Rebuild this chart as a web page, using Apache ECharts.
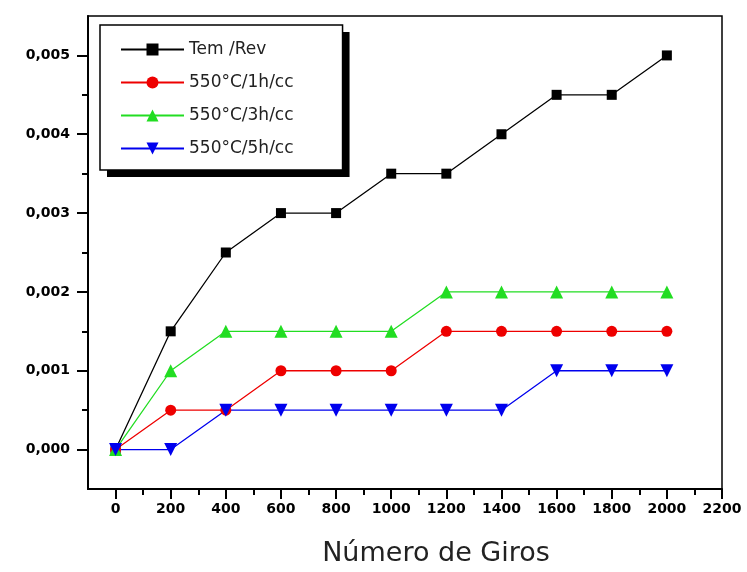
<!DOCTYPE html>
<html><head><meta charset="utf-8">
<script src="https://cdn.jsdelivr.net/npm/echarts@6/dist/echarts.min.js"></script>
<style>html,body{margin:0;padding:0;background:#fff}#c{width:747px;height:572px}</style>
</head><body><div id="c"></div>
<script>
const giros = [0, 200, 400, 600, 800, 1000, 1200, 1400, 1600, 1800, 2000];
const temRev = [0, 0.0015, 0.0025, 0.003, 0.003, 0.0035, 0.0035, 0.004, 0.0045, 0.0045, 0.005];
const c550_1h = [0, 0.0005, 0.0005, 0.001, 0.001, 0.001, 0.0015, 0.0015, 0.0015, 0.0015, 0.0015];
const c550_3h = [0, 0.001, 0.0015, 0.0015, 0.0015, 0.0015, 0.002, 0.002, 0.002, 0.002, 0.002];
const c550_5h = [0, 0, 0.0005, 0.0005, 0.0005, 0.0005, 0.0005, 0.0005, 0.001, 0.001, 0.001];
const seriesNames = ['Tem /Rev', '550°C/1h/cc', '550°C/3h/cc', '550°C/5h/cc'];
const xMajor = [0, 200, 400, 600, 800, 1000, 1200, 1400, 1600, 1800, 2000, 2200];
const xMinor = [100, 300, 500, 700, 900, 1100, 1300, 1500, 1700, 1900, 2100];
const yMajor = [0, 0.001, 0.002, 0.003, 0.004, 0.005];
const yMinor = [0.0005, 0.0015, 0.0025, 0.0035, 0.0045];
const xTitle = 'Número de Giros';

const chart = echarts.init(document.getElementById('c'));
const pair = arr => giros.map((g, i) => [g, arr[i]]);
const labelFont = {fontFamily: 'DejaVu Sans', fontWeight: 'bold', fontSize: 14, color: '#000'};
const mk = (name, data, color, symbol, size) => ({
  name, type: 'line', data: pair(data), xAxisIndex: 0, yAxisIndex: 0,
  symbol, symbolSize: size, color,
  lineStyle: {color, width: 1.3}, itemStyle: {color},
  animation: false
});
const legendBase = {
  orient: 'vertical', left: 100, top: 25,
  data: seriesNames,
  itemWidth: 63, itemHeight: 15, itemGap: 16,
  padding: [16, 49, 13, 20]
};
chart.setOption({
  animation: false,
  backgroundColor: '#fff',
  grid: {left: 88, right: 25, top: 16, bottom: 83, show: true, borderColor: '#000', borderWidth: 1.5, backgroundColor: 'transparent'},
  legend: [
    Object.assign({}, legendBase, {
      backgroundColor: '#fff', borderWidth: 0,
      shadowColor: '#000', shadowBlur: 0, shadowOffsetX: 7, shadowOffsetY: 7,
      textStyle: {fontFamily: 'DejaVu Sans', fontSize: 17, color: '#222'}
    }),
    Object.assign({}, legendBase, {
      backgroundColor: 'transparent', borderColor: '#000', borderWidth: 1.5,
      textStyle: {fontFamily: 'DejaVu Sans', fontSize: 17, color: 'rgba(0,0,0,0)'},
      itemStyle: {opacity: 0}, lineStyle: {opacity: 0}
    })
  ],
  xAxis: [
    {type: 'value', min: -100, max: 2200,
     axisLine: {onZero: false, lineStyle: {color: '#000', width: 2}},
     axisTick: {customValues: xMajor, length: 10, lineStyle: {color: '#000', width: 2}},
     axisLabel: Object.assign({customValues: xMajor, margin: 13, formatter: v => String(v)}, labelFont),
     splitLine: {show: false},
     name: xTitle, nameLocation: 'middle', nameGap: 51,
     nameTextStyle: {fontFamily: 'DejaVu Sans', fontSize: 27, color: '#222', padding: [0, 0, 0, 62]}},
    {type: 'value', min: -100, max: 2200, position: 'bottom',
     axisLine: {show: false, onZero: false},
     axisTick: {customValues: xMinor, length: 6, lineStyle: {color: '#000', width: 2}},
     axisLabel: {show: false}, splitLine: {show: false}}
  ],
  yAxis: [
    {type: 'value', min: -0.0005, max: 0.0055,
     axisLine: {onZero: false, lineStyle: {color: '#000', width: 2}},
     axisTick: {customValues: yMajor, length: 11, lineStyle: {color: '#000', width: 2}},
     axisLabel: Object.assign({customValues: yMajor, margin: 18, formatter: v => v.toFixed(3).replace('.', ',')}, labelFont),
     splitLine: {show: false}},
    {type: 'value', min: -0.0005, max: 0.0055, position: 'left',
     axisLine: {show: false, onZero: false},
     axisTick: {customValues: yMinor, length: 6, lineStyle: {color: '#000', width: 2}},
     axisLabel: {show: false}, splitLine: {show: false}}
  ],
  series: [
    mk(seriesNames[0], temRev, '#000000', 'rect', 10),
    mk(seriesNames[1], c550_1h, '#ee0000', 'circle', 11),
    mk(seriesNames[2], c550_3h, '#22dd22', 'triangle', 13),
    Object.assign(mk(seriesNames[3], c550_5h, '#0000ee', 'triangle', 13), {symbolRotate: 180})
  ]
});
</script></body></html>
